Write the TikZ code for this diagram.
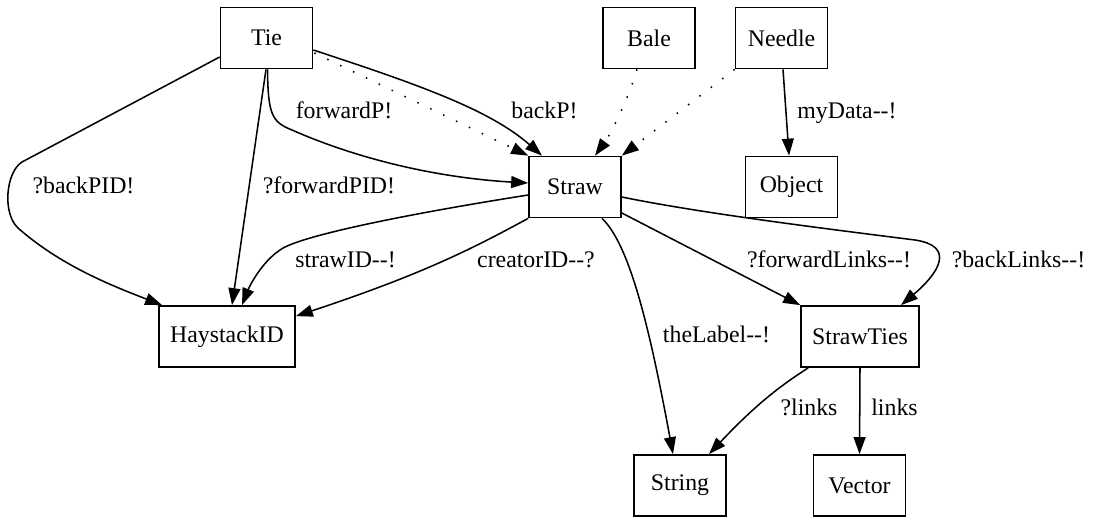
\documentclass[tikz,border=0pt]{standalone}
\usepackage{fontspec}
\setmainfont{Liberation Serif}
\newfontfamily\dotfont{Liberation Serif}[Ligatures=ResetAll]
\usetikzlibrary{arrows.meta,calc}
\begin{document}
\begin{tikzpicture}[x=0.588235pt, y=-0.588235pt,
  txt/.style={font=\dotfont\fontsize{14pt}{16.8pt}\selectfont},
  cls/.style={txt, draw, line width=1pt, rectangle, inner sep=0pt,
              minimum width=54.1pt, minimum height=35.9pt},
  rel/.style={line width=0.9pt, -{Triangle[length=10pt,width=7pt]}},
  weak/.style={rel, dash pattern=on 0.9pt off 7.5pt},
  lbl/.style={txt, anchor=base, inner sep=0pt}]
\useasboundingbox (0,0) rectangle (1094,519);

% classes
\node[cls] (Tie)        at (266.5,38)  {Tie};
\node[cls] (Bale)       at (649,38)    {Bale};
\node[cls] (Needle)     at (781.5,38)  {Needle};
\node[cls] (Straw)      at (575,187)   {Straw};
\node[cls] (Object)     at (791.5,187) {Object};
\node[cls, minimum width=80pt]   (HaystackID) at (227,336.5) {HaystackID};
\node[cls, minimum width=69.4pt] (StrawTies)  at (860,336.5) {StrawTies};
\node[cls] (String)     at (680,485.5) {String};
\node[cls] (Vector)     at (859.5,485.5) {Vector};

% Tie
\draw[rel] ($(Tie.west)+(0,19)$) -- (22,162)
  .. controls (6,172) and (2,213) .. (18,228)
  .. controls (60,265) and (110,285) .. ($(HaystackID.north west)+(4,0)$);
\draw[rel] ($(Tie.south)+(-0.5,0)$) -- ($(HaystackID.north)+(5,0)$);
\draw[rel] ($(Tie.south)+(1,0)$) .. controls (268,115) and (272,122) .. (292,130)
  .. controls (360,160) and (440,178) .. ($(Straw.west)+(0,-4)$);
\draw[rel] ($(Tie.east)+(0,12)$) .. controls (420,85) and (490,110) .. ($(Straw.north)+(-33,0)$);
\draw[weak] ($(Tie.east)+(1,15)$) -- (Straw.north west);

% Bale, Needle
\draw[weak] ($(Bale.south)+(-12,0)$) .. controls (628,100) and (610,135) .. ($(Straw.north)+(20,0)$);
\draw[weak] (Needle.south west) -- (Straw.north east);
\draw[rel] ($(Needle.south)+(1.5,0)$) -- ($(Object.north)+(-2.5,0)$);

% Straw
\draw[rel] ($(Straw.west)+(0,8)$) .. controls (420,212) and (300,235) .. (280,250)
  .. controls (262,262) and (250,285) .. ($(HaystackID.north)+(15,0)$);
\draw[rel] (Straw.south west) .. controls (470,250) and (420,275) .. ($(HaystackID.north east)+(0,11)$);
\draw[rel] ($(Straw.south)+(27,0)$) .. controls (630,245) and (650,330) .. ($(String.north)+(-7,0)$);
\draw[rel] ($(Straw.east)+(0,26)$) -- (StrawTies.north west);
\draw[rel] ($(Straw.east)+(0,10)$) .. controls (700,213) and (820,228) .. (915,240)
  .. controls (955,246) and (940,272) .. ($(StrawTies.north)+(41,0)$);

% StrawTies
\draw[rel] ($(StrawTies.south west)+(8,0)$) .. controls (785,383) and (760,400) .. ($(String.north)+(29,0)$);
\draw[rel] (StrawTies.south) -- (Vector.north);

% labels
\node[lbl] (l1)  at (83.5,193)  {?backPID!};
\node[lbl] (l2)  at (329,193)   {?forwardPID!};
\node[lbl] (l3)  at (344,118)   {forwardP!};
\node[lbl] (l4)  at (544.5,118) {backP!};
\node[lbl] (l5)  at (847,118)   {myData--!};
\node[lbl] (l6)  at (345.5,267) {strawID--!};
\node[lbl] (l7)  at (536,267)   {creatorID--?};
\node[lbl] (l8)  at (829,267)   {?forwardLinks--!};
\node[lbl] (l9)  at (1018.5,267) {?backLinks--!};
\node[lbl] (l10) at (716.5,342) {theLabel--!};
\node[lbl] (l11) at (809,415)   {?links};
\node[lbl] (l12) at (894.5,415) {links};
\end{tikzpicture}
\end{document}
